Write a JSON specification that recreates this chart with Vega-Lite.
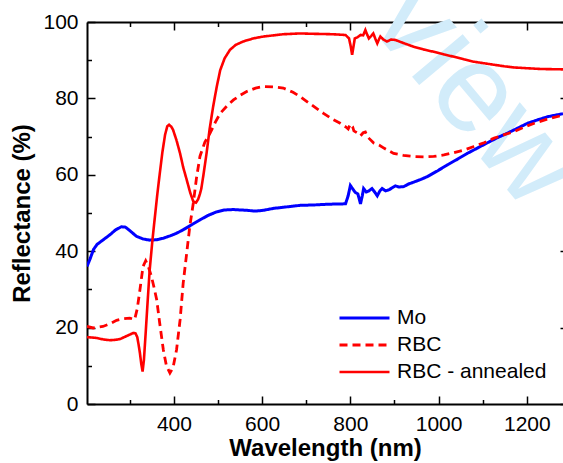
{
  "$schema": "https://vega.github.io/schema/vega-lite/v6.json",
  "width": 476,
  "height": 382,
  "autosize": "none",
  "padding": {"left": 87, "top": 22, "right": 0, "bottom": 59},
  "background": "white",
  "config": {
    "view": {"stroke": null},
    "font": "Liberation Sans",
    "axis": {"grid": false, "domainColor": "black", "tickColor": "black", "labelColor": "black", "titleColor": "black", "labelFont": "Liberation Sans", "titleFont": "Liberation Sans"}
  },
  "data": {"values": [
    {"s":"Mo","w":203,"r":36.0},{"s":"Mo","w":210,"r":38.0},{"s":"Mo","w":218,"r":40.5},{"s":"Mo","w":226,"r":41.8},{"s":"Mo","w":240,"r":43.0},{"s":"Mo","w":255,"r":44.3},{"s":"Mo","w":268,"r":45.6},{"s":"Mo","w":281,"r":46.4},{"s":"Mo","w":290,"r":46.3},{"s":"Mo","w":300,"r":45.4},{"s":"Mo","w":315,"r":43.9},{"s":"Mo","w":330,"r":43.2},{"s":"Mo","w":345,"r":42.9},{"s":"Mo","w":361,"r":43.0},{"s":"Mo","w":376,"r":43.4},{"s":"Mo","w":391,"r":44.0},{"s":"Mo","w":406,"r":44.7},{"s":"Mo","w":421,"r":45.6},{"s":"Mo","w":440,"r":46.9},{"s":"Mo","w":459,"r":48.2},{"s":"Mo","w":478,"r":49.4},{"s":"Mo","w":497,"r":50.3},{"s":"Mo","w":515,"r":50.8},{"s":"Mo","w":535,"r":50.9},{"s":"Mo","w":565,"r":50.7},{"s":"Mo","w":585,"r":50.5},{"s":"Mo","w":603,"r":50.7},{"s":"Mo","w":625,"r":51.2},{"s":"Mo","w":648,"r":51.5},{"s":"Mo","w":686,"r":52.0},{"s":"Mo","w":717,"r":52.1},{"s":"Mo","w":750,"r":52.3},{"s":"Mo","w":789,"r":52.4},{"s":"Mo","w":795,"r":54.5},{"s":"Mo","w":800,"r":57.2},{"s":"Mo","w":806,"r":56.2},{"s":"Mo","w":811,"r":55.4},{"s":"Mo","w":817,"r":55.0},{"s":"Mo","w":823,"r":52.4},{"s":"Mo","w":827,"r":54.5},{"s":"Mo","w":830,"r":56.4},{"s":"Mo","w":836,"r":55.5},{"s":"Mo","w":842,"r":55.8},{"s":"Mo","w":849,"r":56.4},{"s":"Mo","w":855,"r":55.5},{"s":"Mo","w":861,"r":54.5},{"s":"Mo","w":867,"r":55.8},{"s":"Mo","w":872,"r":56.4},{"s":"Mo","w":880,"r":55.8},{"s":"Mo","w":888,"r":56.1},{"s":"Mo","w":895,"r":56.6},{"s":"Mo","w":902,"r":57.1},{"s":"Mo","w":910,"r":56.8},{"s":"Mo","w":921,"r":56.9},{"s":"Mo","w":932,"r":57.6},{"s":"Mo","w":944,"r":58.1},{"s":"Mo","w":960,"r":58.8},{"s":"Mo","w":974,"r":59.5},{"s":"Mo","w":997,"r":61.0},{"s":"Mo","w":1020,"r":62.6},{"s":"Mo","w":1043,"r":64.1},{"s":"Mo","w":1065,"r":65.6},{"s":"Mo","w":1088,"r":67.0},{"s":"Mo","w":1111,"r":68.4},{"s":"Mo","w":1133,"r":69.7},{"s":"Mo","w":1156,"r":70.9},{"s":"Mo","w":1179,"r":72.2},{"s":"Mo","w":1202,"r":73.5},{"s":"Mo","w":1225,"r":74.4},{"s":"Mo","w":1247,"r":75.2},{"s":"Mo","w":1282,"r":76.0},
    {"s":"RBC","w":203,"r":20.3},{"s":"RBC","w":217,"r":19.9},{"s":"RBC","w":239,"r":20.3},{"s":"RBC","w":255,"r":21.0},{"s":"RBC","w":270,"r":21.9},{"s":"RBC","w":285,"r":22.3},{"s":"RBC","w":300,"r":22.5},{"s":"RBC","w":311,"r":22.1},{"s":"RBC","w":317,"r":25.0},{"s":"RBC","w":323,"r":29.9},{"s":"RBC","w":330,"r":36.0},{"s":"RBC","w":336,"r":37.5},{"s":"RBC","w":342,"r":36.0},{"s":"RBC","w":349,"r":33.4},{"s":"RBC","w":355,"r":30.5},{"s":"RBC","w":361,"r":27.3},{"s":"RBC","w":368,"r":21.0},{"s":"RBC","w":376,"r":14.2},{"s":"RBC","w":383,"r":10.0},{"s":"RBC","w":391,"r":8.1},{"s":"RBC","w":398,"r":9.5},{"s":"RBC","w":406,"r":14.2},{"s":"RBC","w":414,"r":22.0},{"s":"RBC","w":421,"r":31.6},{"s":"RBC","w":429,"r":39.5},{"s":"RBC","w":436,"r":46.5},{"s":"RBC","w":444,"r":52.6},{"s":"RBC","w":451,"r":59.0},{"s":"RBC","w":459,"r":64.8},{"s":"RBC","w":470,"r":68.5},{"s":"RBC","w":482,"r":70.9},{"s":"RBC","w":494,"r":73.8},{"s":"RBC","w":505,"r":76.1},{"s":"RBC","w":520,"r":78.0},{"s":"RBC","w":535,"r":79.6},{"s":"RBC","w":550,"r":80.8},{"s":"RBC","w":565,"r":81.8},{"s":"RBC","w":585,"r":82.7},{"s":"RBC","w":603,"r":83.1},{"s":"RBC","w":625,"r":83.0},{"s":"RBC","w":648,"r":82.7},{"s":"RBC","w":670,"r":81.6},{"s":"RBC","w":686,"r":80.5},{"s":"RBC","w":700,"r":79.3},{"s":"RBC","w":717,"r":77.9},{"s":"RBC","w":740,"r":76.0},{"s":"RBC","w":760,"r":74.5},{"s":"RBC","w":777,"r":73.5},{"s":"RBC","w":790,"r":72.5},{"s":"RBC","w":795,"r":72.0},{"s":"RBC","w":800,"r":73.3},{"s":"RBC","w":805,"r":72.6},{"s":"RBC","w":808,"r":71.5},{"s":"RBC","w":815,"r":71.0},{"s":"RBC","w":823,"r":70.2},{"s":"RBC","w":829,"r":71.0},{"s":"RBC","w":834,"r":71.2},{"s":"RBC","w":840,"r":69.8},{"s":"RBC","w":853,"r":68.3},{"s":"RBC","w":865,"r":67.8},{"s":"RBC","w":876,"r":67.0},{"s":"RBC","w":887,"r":66.3},{"s":"RBC","w":898,"r":65.6},{"s":"RBC","w":920,"r":65.1},{"s":"RBC","w":944,"r":64.8},{"s":"RBC","w":966,"r":64.7},{"s":"RBC","w":989,"r":64.8},{"s":"RBC","w":1012,"r":65.2},{"s":"RBC","w":1035,"r":65.8},{"s":"RBC","w":1058,"r":66.5},{"s":"RBC","w":1080,"r":67.4},{"s":"RBC","w":1103,"r":68.4},{"s":"RBC","w":1126,"r":69.6},{"s":"RBC","w":1149,"r":70.5},{"s":"RBC","w":1171,"r":71.3},{"s":"RBC","w":1194,"r":72.5},{"s":"RBC","w":1217,"r":73.5},{"s":"RBC","w":1250,"r":74.7},{"s":"RBC","w":1282,"r":75.6},
    {"s":"RBC - annealed","w":203,"r":17.5},{"s":"RBC - annealed","w":215,"r":17.4},{"s":"RBC - annealed","w":224,"r":17.3},{"s":"RBC - annealed","w":240,"r":16.9},{"s":"RBC - annealed","w":255,"r":16.7},{"s":"RBC - annealed","w":268,"r":16.8},{"s":"RBC - annealed","w":278,"r":17.0},{"s":"RBC - annealed","w":293,"r":17.8},{"s":"RBC - annealed","w":308,"r":18.6},{"s":"RBC - annealed","w":313,"r":18.5},{"s":"RBC - annealed","w":317,"r":17.5},{"s":"RBC - annealed","w":320,"r":15.5},{"s":"RBC - annealed","w":323,"r":13.3},{"s":"RBC - annealed","w":326,"r":10.5},{"s":"RBC - annealed","w":329,"r":8.5},{"s":"RBC - annealed","w":332,"r":11.5},{"s":"RBC - annealed","w":336,"r":18.6},{"s":"RBC - annealed","w":340,"r":26.0},{"s":"RBC - annealed","w":345,"r":35.0},{"s":"RBC - annealed","w":351,"r":42.5},{"s":"RBC - annealed","w":357,"r":49.1},{"s":"RBC - annealed","w":362,"r":54.5},{"s":"RBC - annealed","w":368,"r":60.4},{"s":"RBC - annealed","w":374,"r":66.0},{"s":"RBC - annealed","w":380,"r":70.5},{"s":"RBC - annealed","w":385,"r":72.7},{"s":"RBC - annealed","w":389,"r":73.1},{"s":"RBC - annealed","w":394,"r":72.6},{"s":"RBC - annealed","w":398,"r":71.8},{"s":"RBC - annealed","w":406,"r":69.0},{"s":"RBC - annealed","w":414,"r":65.6},{"s":"RBC - annealed","w":421,"r":62.0},{"s":"RBC - annealed","w":429,"r":58.7},{"s":"RBC - annealed","w":437,"r":55.3},{"s":"RBC - annealed","w":444,"r":53.0},{"s":"RBC - annealed","w":450,"r":52.7},{"s":"RBC - annealed","w":455,"r":53.6},{"s":"RBC - annealed","w":459,"r":55.0},{"s":"RBC - annealed","w":462,"r":56.3},{"s":"RBC - annealed","w":467,"r":60.0},{"s":"RBC - annealed","w":474,"r":65.6},{"s":"RBC - annealed","w":481,"r":72.0},{"s":"RBC - annealed","w":489,"r":77.9},{"s":"RBC - annealed","w":497,"r":83.0},{"s":"RBC - annealed","w":505,"r":87.4},{"s":"RBC - annealed","w":515,"r":90.5},{"s":"RBC - annealed","w":527,"r":92.7},{"s":"RBC - annealed","w":540,"r":94.0},{"s":"RBC - annealed","w":557,"r":94.9},{"s":"RBC - annealed","w":580,"r":95.7},{"s":"RBC - annealed","w":603,"r":96.2},{"s":"RBC - annealed","w":648,"r":96.8},{"s":"RBC - annealed","w":686,"r":97.0},{"s":"RBC - annealed","w":720,"r":96.9},{"s":"RBC - annealed","w":760,"r":96.8},{"s":"RBC - annealed","w":789,"r":96.6},{"s":"RBC - annealed","w":797,"r":95.7},{"s":"RBC - annealed","w":801,"r":93.5},{"s":"RBC - annealed","w":804,"r":91.4},{"s":"RBC - annealed","w":807,"r":93.5},{"s":"RBC - annealed","w":810,"r":95.7},{"s":"RBC - annealed","w":816,"r":96.0},{"s":"RBC - annealed","w":823,"r":96.6},{"s":"RBC - annealed","w":829,"r":96.5},{"s":"RBC - annealed","w":834,"r":97.9},{"s":"RBC - annealed","w":838,"r":96.7},{"s":"RBC - annealed","w":842,"r":95.7},{"s":"RBC - annealed","w":847,"r":96.3},{"s":"RBC - annealed","w":852,"r":97.0},{"s":"RBC - annealed","w":857,"r":95.5},{"s":"RBC - annealed","w":861,"r":94.4},{"s":"RBC - annealed","w":865,"r":95.5},{"s":"RBC - annealed","w":868,"r":96.2},{"s":"RBC - annealed","w":875,"r":95.4},{"s":"RBC - annealed","w":883,"r":94.9},{"s":"RBC - annealed","w":892,"r":95.4},{"s":"RBC - annealed","w":902,"r":95.3},{"s":"RBC - annealed","w":920,"r":94.5},{"s":"RBC - annealed","w":944,"r":93.5},{"s":"RBC - annealed","w":966,"r":92.8},{"s":"RBC - annealed","w":989,"r":92.2},{"s":"RBC - annealed","w":1012,"r":91.5},{"s":"RBC - annealed","w":1035,"r":90.9},{"s":"RBC - annealed","w":1058,"r":90.2},{"s":"RBC - annealed","w":1080,"r":89.6},{"s":"RBC - annealed","w":1103,"r":89.2},{"s":"RBC - annealed","w":1126,"r":88.8},{"s":"RBC - annealed","w":1149,"r":88.4},{"s":"RBC - annealed","w":1171,"r":88.1},{"s":"RBC - annealed","w":1200,"r":87.9},{"s":"RBC - annealed","w":1232,"r":87.7},{"s":"RBC - annealed","w":1282,"r":87.6}
  ]},
  "layer": [
    {
      "data": {"values": [{"t": "view"}]},
      "mark": {"type": "text", "angle": 50, "fontSize": 125, "font": "Liberation Sans", "color": "#d2ecfa", "align": "center", "baseline": "middle"},
      "encoding": {
        "text": {"field": "t"},
        "x": {"datum": 1085, "type": "quantitative", "scale": {"domain": [203, 1282], "nice": false, "zero": false}, "axis": null},
        "y": {"datum": 81.2, "type": "quantitative", "scale": {"domain": [0, 100], "nice": false}, "axis": null}
      }
    },
    {
      "mark": {"type": "point", "opacity": 0},
      "encoding": {
        "x": {"field": "w", "type": "quantitative", "scale": {"domain": [203, 1282], "nice": false, "zero": false},
              "axis": {"orient": "top", "values": [300,400,500,600,700,800,900,1000,1100,1200], "labels": false, "title": null, "domainWidth": 2,
                       "tickWidth": 1.5, "tickSize": {"condition": {"test": "datum.value % 200 === 0", "value": -8}, "value": -4.5}}},
        "y": {"field": "r", "type": "quantitative", "scale": {"domain": [0, 100], "nice": false},
              "axis": {"orient": "right", "values": [0,20,40,60,80,100], "labels": false, "title": null, "domain": false, "tickWidth": 1.5, "tickSize": -3}}
      }
    },
    {
      "mark": {"type": "line", "clip": true},
      "encoding": {
        "x": {"field": "w", "type": "quantitative", "scale": {"domain": [203, 1282], "nice": false, "zero": false},
              "axis": {"orient": "bottom", "values": [300,400,500,600,700,800,900,1000,1100,1200], "format": "d", "labelExpr": "datum.value % 200 === 0 ? datum.label : ''",
                       "title": "Wavelength (nm)", "titleFontSize": 24, "titleFontWeight": "bold", "titlePadding": 2, "labelFontSize": 21, "labelPadding": 17, "labelFlush": false,
                       "domainWidth": 2, "tickWidth": 1.5, "tickSize": {"condition": {"test": "datum.value % 200 === 0", "value": -8}, "value": -4.5}}},
        "y": {"field": "r", "type": "quantitative", "scale": {"domain": [0, 100], "nice": false},
              "axis": {"orient": "left", "values": [0,10,20,30,40,50,60,70,80,90,100], "format": "d", "labelExpr": "datum.value % 20 === 0 ? datum.label : ''",
                       "title": "Reflectance (%)", "titleFontSize": 24, "titleFontWeight": "bold", "titlePadding": 8, "labelFontSize": 21, "labelPadding": 17, "labelFlush": false,
                       "domainWidth": 2, "tickWidth": 1.5, "tickSize": {"condition": {"test": "datum.value % 20 === 0", "value": -8}, "value": -4.5}}},
        "color": {"field": "s", "type": "nominal", "scale": {"domain": ["Mo", "RBC", "RBC - annealed"], "range": ["#0000ff", "#ff0000", "#ff0000"]},
                  "legend": {"orient": "none", "legendX": 251, "legendY": 284, "title": null, "labelFontSize": 21, "labelFont": "Liberation Sans", "labelColor": "black",
                             "symbolType": "stroke", "symbolSize": 2500, "symbolStrokeWidth": 3, "clipHeight": 24, "rowPadding": 3, "labelOffset": 6, "padding": 0}},
        "strokeDash": {"field": "s", "type": "nominal", "scale": {"domain": ["Mo", "RBC", "RBC - annealed"], "range": [[1, 0], [8, 5], [1, 0]]},
                  "legend": {"orient": "none", "legendX": 251, "legendY": 284, "title": null, "labelFontSize": 21, "labelFont": "Liberation Sans", "labelColor": "black",
                             "symbolType": "stroke", "symbolSize": 2500, "symbolStrokeWidth": 3, "clipHeight": 24, "rowPadding": 3, "labelOffset": 6, "padding": 0}},
        "strokeWidth": {"field": "s", "type": "nominal", "scale": {"domain": ["Mo", "RBC", "RBC - annealed"], "range": [3, 2.6, 2.6]}, "legend": null}
      }
    }
  ]
}
